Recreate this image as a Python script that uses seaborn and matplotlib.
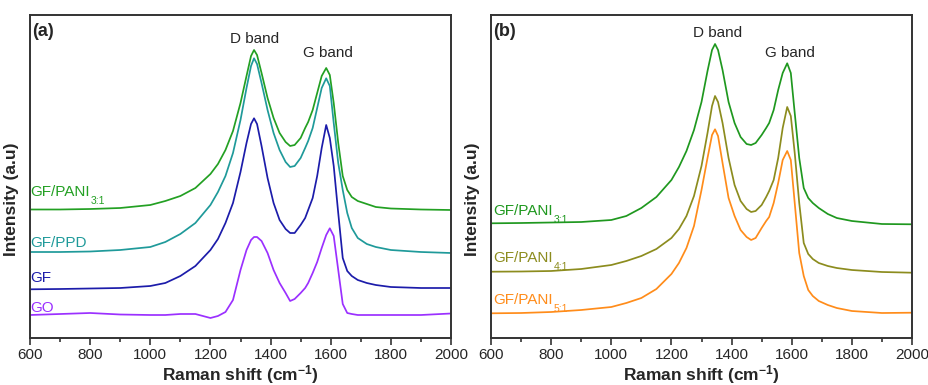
import matplotlib
matplotlib.use("Agg")
import matplotlib.pyplot as plt
import seaborn as sns
import numpy as np

sns.set_theme(style="white")
plt.rcParams['font.family'] = ['Liberation Sans', 'DejaVu Sans']
plt.rcParams['mathtext.fontset'] = 'custom'
plt.rcParams['mathtext.rm'] = 'Liberation Sans'
plt.rcParams['mathtext.it'] = 'Liberation Sans:italic'
plt.rcParams['mathtext.bf'] = 'Liberation Sans:bold'

# Raman shift grid (cm^-1)
shift = [600, 700, 800, 900, 1000, 1050, 1100, 1150, 1200, 1225, 1250, 1275, 1300, 1320,
         1335, 1345, 1355, 1370, 1390, 1410, 1430, 1450, 1465, 1480, 1500, 1515, 1525,
         1540, 1555, 1570, 1585, 1597, 1610, 1625, 1640, 1655, 1670, 1690, 1720, 1750,
         1800, 1900, 2000]

# Panel (a) spectra (offset intensities, a.u.)
gf_pani31_a = [128.5, 128.5, 129, 130, 133, 137, 142, 150, 164, 174, 188, 207, 235, 262,
               282, 288, 283, 265, 240, 220, 205, 196, 192, 193, 200, 210, 216,
               228, 245, 262, 270, 263, 235, 195, 162, 148, 141, 137, 134, 131,
               129.5, 128.5, 128]
gf_ppd = [86, 86, 86.5, 88, 91, 96, 104, 115, 133, 146, 162, 185, 218, 250,
          272, 279.7, 274, 255, 228, 205, 188, 176, 171, 172, 180, 190, 197,
          210, 230, 250, 259.7, 252, 215, 175, 148, 125, 110, 100, 94, 91,
          88, 86, 85]
gf = [48.7, 49, 49.5, 50, 52, 55, 62, 72, 88, 99, 115, 135, 166, 195,
      214, 219.7, 214, 192, 160, 135, 118, 109, 105, 105, 113, 120, 128,
      140, 162, 190, 213, 200, 172, 125, 80, 67, 62, 58, 55, 53,
      51, 50, 50]
go = [23, 24, 25, 23.5, 23, 23, 24, 24, 20, 22, 26, 38, 68, 88,
      98, 101, 101, 97, 85, 68, 55, 45, 37, 39, 45, 50, 55,
      65, 76, 90, 103, 109.7, 102, 68, 34, 25, 24, 23, 23, 23,
      23, 23, 24.5]

# Panel (b) spectra
gf_pani31_b = [114.7, 115, 115.5, 116, 118, 122, 130, 141, 158, 171, 187, 208, 236, 267,
               288, 294, 288, 268, 236, 215, 201, 194, 193, 195, 203, 210, 215,
               228, 248, 265, 274.7, 265, 225, 180, 150, 140, 135, 130, 124, 120,
               117, 114, 113.7]
gf_pani41 = [66.3, 66.5, 67, 69, 73, 77, 82, 89, 100, 109, 122, 142, 172, 205,
             232, 242, 236, 215, 180, 153, 137, 129, 126, 127, 133, 141, 147,
             158, 180, 210, 231, 222, 185, 135, 95, 84, 79, 75, 72, 70,
             68, 66, 65.3]
gf_pani51 = [24.7, 25, 26, 28, 31, 35, 40, 49, 64, 75, 90, 112, 148, 180,
             203, 208.7, 202, 175, 140, 122, 108, 101, 98, 100, 110, 117, 121,
             135, 155, 178, 187, 178, 135, 85, 62, 48, 42, 37, 33, 30,
             27, 25, 25.3]

# (label, subscript, values, colour, label height)
panel_a = [
    ("GF/PANI", "3:1", gf_pani31_a, "#23a023", 146),
    ("GF/PPD", "", gf_ppd, "#1f9a9a", 95),
    ("GF", "", gf, "#1c1caa", 60),
    ("GO", "", go, "#9b30ff", 30),
]
panel_b = [
    ("GF/PANI", "3:1", gf_pani31_b, "#1f981f", 127),
    ("GF/PANI", "4:1", gf_pani41, "#8c8c1e", 80),
    ("GF/PANI", "5:1", gf_pani51, "#ff8c1a", 38),
]

xticks = [600, 800, 1000, 1200, 1400, 1600, 1800, 2000]

fig = plt.figure(figsize=(9.29, 3.85), dpi=100)
ax_a = fig.add_axes([30/929, 1-338/385, 421/929, 323/385])
ax_b = fig.add_axes([491/929, 1-338/385, 421/929, 323/385])

def draw(ax, series, tag, dpos, gpos, label_x):
    for name, sub, vals, col, ly in series:
        sns.lineplot(x=shift, y=vals, ax=ax, color=col, linewidth=1.25)
        t = ax.text(label_x, ly, name, color=col, fontsize=11, ha='left', va='center')
        if sub:
            ax.annotate(sub, xy=(1.0, 0.22), xycoords=t, xytext=(0.5, 0),
                        textcoords='offset points', color=col, fontsize=7.5,
                        ha='left', va='top')
    ax.set_xlim(600, 2000)
    ax.set_ylim(0, 323)
    ax.set_xticks(xticks)
    ax.set_xticks(range(700, 2000, 200), minor=True)
    ax.set_yticks([])
    ax.tick_params(axis='x', which='major', direction='out', length=5, width=1.2,
                   color='#333333', labelsize=11, pad=2, bottom=True)
    ax.tick_params(axis='x', which='minor', direction='out', length=3, width=1.2,
                   color='#333333', bottom=True)
    for s in ax.spines.values():
        s.set_color('#333333')
        s.set_linewidth(1.4)
    ax.set_xlabel("Raman shift (cm$^{\\mathbf{-1}}$)", fontsize=12.5, fontweight='bold', labelpad=1)
    ax.set_ylabel("Intensity (a.u)", fontsize=12.5, fontweight='bold')
    ax.yaxis.set_label_coords(-0.026, 0.43)
    ax.text(0.006, 0.95, tag, transform=ax.transAxes, fontsize=13, fontweight='bold',
            ha='left', va='center')
    ax.text(dpos[0], dpos[1], "D band", fontsize=11, ha='center', va='center')
    ax.text(gpos[0], gpos[1], "G band", fontsize=11, ha='center', va='center')

draw(ax_a, panel_a, "(a)", (1348, 299), (1591, 285), 602)
draw(ax_b, panel_b, "(b)", (1355, 305), (1594, 285), 607)

fig.savefig("out.png", dpi=100, facecolor='white')
